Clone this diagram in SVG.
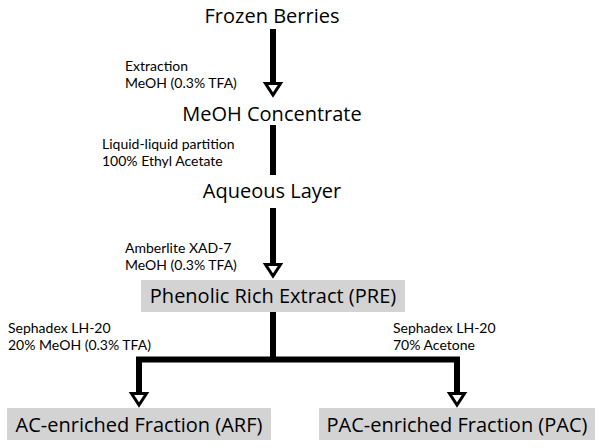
<svg xmlns="http://www.w3.org/2000/svg" width="600" height="448" viewBox="0 0 600 448">
<style>
.big{font-family:"Open Sans","Liberation Sans",sans-serif;font-size:20px;fill:#000;text-anchor:middle}
.sm{font-family:Lato,"Open Sans",sans-serif;font-size:14px;fill:#000}
.box{fill:#d3d3d3}
.ln{stroke:#000;stroke-width:6;fill:none;stroke-linecap:butt;stroke-linejoin:miter}
.hd{fill:#fff;stroke:#000;stroke-width:3;stroke-linejoin:miter}
</style>
<rect width="600" height="448" fill="#fff"/>
<g id="frozen-berries"><text class="big" x="272" y="23">Frozen Berries</text></g>
<g id="meoh-concentrate"><text class="big" x="272" y="121">MeOH Concentrate</text></g>
<g id="aqueous-layer"><text class="big" x="272" y="198">Aqueous Layer</text></g>
<g id="pre"><rect class="box" x="141" y="280" width="264" height="32"/><text class="big" x="273" y="303">Phenolic Rich Extract (PRE)</text></g>
<g id="arf"><rect class="box" x="7" y="408" width="264" height="32"/><text class="big" x="139" y="432">AC-enriched Fraction (ARF)</text></g>
<g id="pac"><rect class="box" x="319" y="408" width="276" height="32"/><text class="big" x="457" y="432">PAC-enriched Fraction (PAC)</text></g>
<g id="labels">
<text class="sm" x="125" y="71">Extraction</text>
<text class="sm" x="125" y="88">MeOH (0.3% TFA)</text>
<text class="sm" x="102" y="149">Liquid-liquid partition</text>
<text class="sm" x="102" y="166">100% Ethyl Acetate</text>
<text class="sm" x="125" y="253">Amberlite XAD-7</text>
<text class="sm" x="125" y="270">MeOH (0.3% TFA)</text>
<text class="sm" x="8" y="333">Sephadex LH-20</text>
<text class="sm" x="8" y="350">20% MeOH (0.3% TFA)</text>
<text class="sm" x="393" y="333">Sephadex LH-20</text>
<text class="sm" x="393" y="350">70% Acetone</text>
</g>
<g id="connectors">
<path class="ln" d="M273 29V84"/>
<polygon class="hd" points="265.5,83.5 280.5,83.5 273,95"/>
<path class="ln" d="M273 125V175"/>
<path class="ln" d="M273 208V265"/>
<polygon class="hd" points="265.5,264.5 280.5,264.5 273,276"/>
<path class="ln" d="M273 312V360M139 395V359.5H457V395"/>
<polygon class="hd" points="131.5,393.5 146.5,393.5 139,405"/>
<polygon class="hd" points="449.5,393.5 464.5,393.5 457,405"/>
</g>
</svg>
